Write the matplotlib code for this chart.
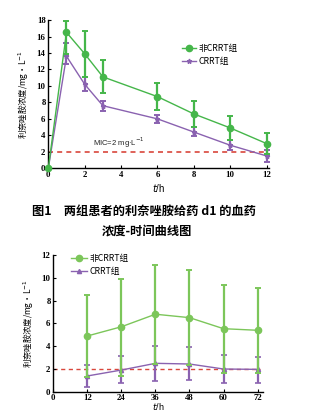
import matplotlib
matplotlib.use("Agg")
import matplotlib.pyplot as plt
import numpy as np

plt.rcParams['font.family'] = ['Noto Sans CJK SC', 'DejaVu Sans']
plt.rcParams['mathtext.fontset'] = 'dejavusans'

# ---- Figure 1 data (day 1) ----
t1 = [0, 1, 2, 3, 6, 8, 10, 12]
non_mean1 = [0, 16.5, 13.9, 11.1, 8.7, 6.6, 4.9, 3.0]
non_hi1 = [0, 17.9, 16.7, 13.2, 10.3, 8.2, 6.4, 4.3]
non_lo1 = [0, 13.9, 11.1, 9.1, 7.1, 5.0, 3.4, 1.7]
crrt_mean1 = [0, 13.6, 10.2, 7.6, 6.0, 4.4, 2.8, 1.5]
crrt_hi1 = [0, 15.2, 11.1, 8.2, 6.5, 5.0, 3.4, 2.2]
crrt_lo1 = [0, 12.7, 9.4, 7.0, 5.5, 3.9, 2.2, 0.8]
xticks1 = [0, 2, 4, 6, 8, 10, 12]
yticks1 = [0, 2, 4, 6, 8, 10, 12, 14, 16, 18]

# ---- Figure 2 data (trough) ----
t2 = [12, 24, 36, 48, 60, 72]
non_mean2 = [4.89, 5.7, 6.8, 6.5, 5.53, 5.39]
non_hi2 = [8.45, 9.9, 11.15, 10.65, 9.4, 9.1]
non_lo2 = [1.32, 1.4, 2.43, 2.36, 1.67, 1.67]
crrt_mean2 = [1.38, 1.9, 2.49, 2.43, 1.99, 1.96]
crrt_hi2 = [2.34, 3.13, 4.04, 3.9, 3.19, 3.07]
crrt_lo2 = [0.44, 0.73, 0.97, 1.03, 0.79, 0.79]
xticks2 = [0, 12, 24, 36, 48, 60, 72]
yticks2 = [0, 2, 4, 6, 8, 10, 12]

MIC = 2
label_non = '非CRRT组'
label_crrt = 'CRRT组'
ylabel = '利奈唑胺浓度/mg·L$^{-1}$'
caption1 = '图1　两组患者的利奈唑胺给药 d1 的血药'
caption2 = '浓度-时间曲线图'

green1 = '#45b64a'
green2 = '#7cc65a'
purple = '#8a62b0'
red = '#d9473c'

fig = plt.figure(figsize=(3.27, 4.13), dpi=100)

def err(mean, hi, lo):
    m = np.array(mean); return [m - np.array(lo), np.array(hi) - m]

def style(ax, xt, yt):
    ax.spines['top'].set_visible(False)
    ax.spines['right'].set_visible(False)
    ax.spines['left'].set_linewidth(1.0)
    ax.spines['bottom'].set_linewidth(1.0)
    ax.set_xticks(xt)
    ax.set_yticks(yt)
    ax.tick_params(direction='in', length=2.5, width=0.8, pad=2)
    for lab in ax.get_xticklabels() + ax.get_yticklabels():
        lab.set_fontfamily('Liberation Serif')
        lab.set_fontweight('bold')
        lab.set_fontsize(6.3)

# ---- top axes ----
ax1 = fig.add_axes([0.1477, 0.5925, 0.676, 0.359])
ax1.set_xlim(0, 12.15)
ax1.set_ylim(0, 18)
ax1.axhline(MIC, xmin=0, xmax=12/12.15, color=red, ls=(0, (3, 2.5)), lw=1.2, zorder=1)
ax1.errorbar(t1, non_mean1, yerr=err(non_mean1, non_hi1, non_lo1), color=green1, lw=1.0,
             marker='o', ms=4.5, elinewidth=1.6, capsize=2.5, capthick=1.4, clip_on=False,
             label=label_non, zorder=3)
ax1.errorbar(t1, crrt_mean1, yerr=err(crrt_mean1, crrt_hi1, crrt_lo1), color=purple, lw=1.0,
             marker='*', ms=3.5, elinewidth=1.6, capsize=2.5, capthick=1.4, clip_on=False,
             label=label_crrt, zorder=2)
style(ax1, xticks1, yticks1)
ax1.set_ylabel(ylabel, fontsize=6, labelpad=4)
ax1.set_xlabel('$t$/h', fontsize=7, labelpad=2, family='Liberation Sans')
ax1.text(2.45, 2.75, 'MIC=2 mg·L$^{-1}$', fontsize=5.5, family='Liberation Sans', color='#222222')
h, l = ax1.get_legend_handles_labels()
ax1.legend([hh[0] for hh in h], l, loc='upper left', bbox_to_anchor=(0.59, 0.86), frameon=False,
           fontsize=6.3, handlelength=1.6, handletextpad=0.3, labelspacing=0.45, borderaxespad=0)

# ---- caption ----
fig.text(32/327, 1 - 211/413, caption1, fontsize=8.8, va='center', ha='left', fontweight='bold')
fig.text(102/327, 1 - 231/413, caption2, fontsize=8.8, va='center', ha='left', fontweight='bold')

# ---- bottom axes ----
ax2 = fig.add_axes([0.163, 0.0516, 0.642, 0.331])
ax2.set_xlim(0, 74)
ax2.set_ylim(0, 12)
ax2.axhline(MIC, xmin=0, xmax=73/74, color=red, ls=(0, (3, 2.5)), lw=1.0, zorder=1)
ax2.errorbar(t2, non_mean2, yerr=err(non_mean2, non_hi2, non_lo2), color=green2, lw=1.0,
             marker='o', ms=4.5, elinewidth=1.6, capsize=2.5, capthick=1.4,
             label=label_non, zorder=3)
ax2.errorbar(t2, crrt_mean2, yerr=err(crrt_mean2, crrt_hi2, crrt_lo2), color=purple, lw=1.0,
             marker='^', ms=3, elinewidth=1.6, capsize=2.5, capthick=1.2,
             label=label_crrt, zorder=2)
style(ax2, xticks2, yticks2)
ax2.set_ylabel(ylabel, fontsize=6, labelpad=4)
ax2.set_xlabel('$t$/h', fontsize=6.5, labelpad=-1, family='Liberation Sans')
h, l = ax2.get_legend_handles_labels()
ax2.legend([hh[0] for hh in h], l, loc='upper left', bbox_to_anchor=(0.07, 1.03), frameon=False,
           fontsize=6.3, handlelength=1.8, handletextpad=0.3, labelspacing=0.45, borderaxespad=0)

fig.savefig('out.png', dpi=100)
